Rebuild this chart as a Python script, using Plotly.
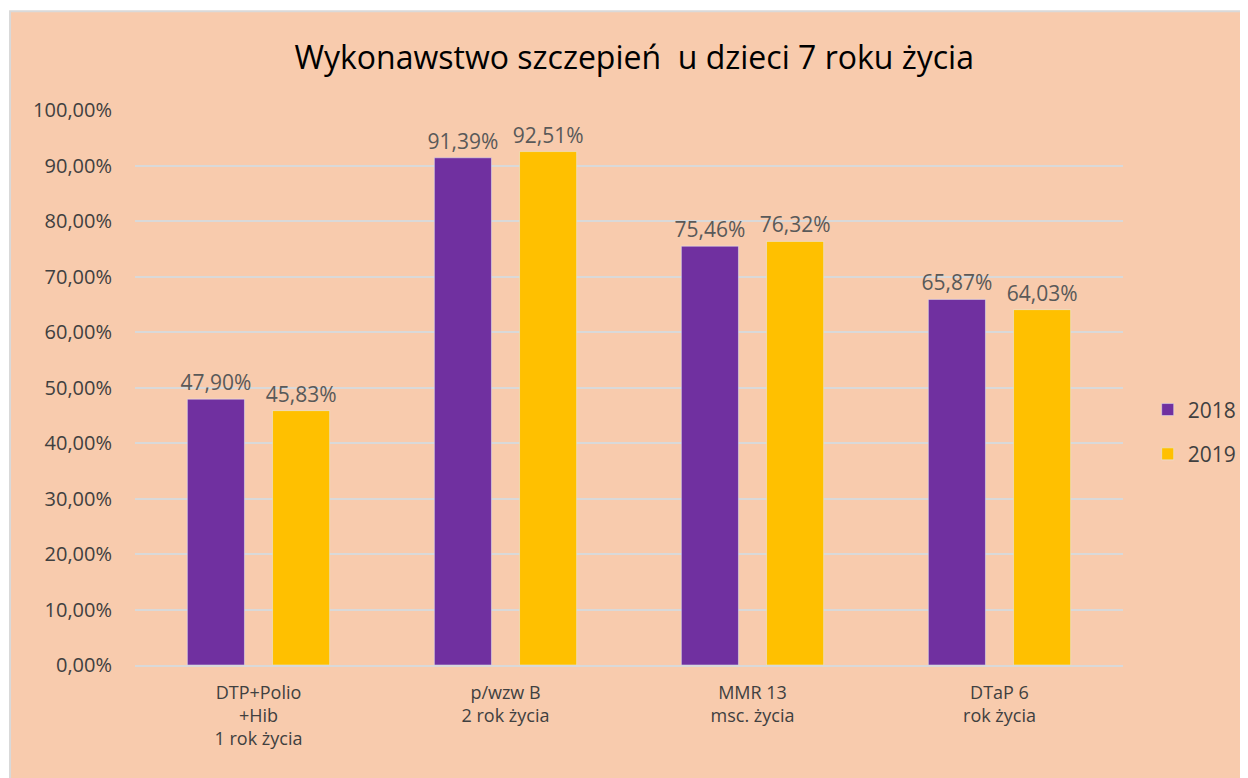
import plotly.graph_objects as go

categories = ["DTP+Polio<br>+Hib<br>1 rok życia", "p/wzw B<br>2 rok życia", "MMR 13<br>msc. życia", "DTaP 6<br>rok życia"]
values_2018 = [0.4790, 0.9139, 0.7546, 0.6587]
values_2019 = [0.4583, 0.9251, 0.7632, 0.6403]

FONT = "Open Sans"
label_font = dict(family=FONT, size=21, color="#595959")

fig = go.Figure()
fig.add_trace(go.Bar(
    x=categories, y=values_2018, name="2018", legendgroup="a",
    marker=dict(color="#7030A0"),
    texttemplate="%{y:.2%}", textposition="outside", textfont=label_font,
    constraintext="none", cliponaxis=False,
))
fig.add_trace(go.Bar(
    x=categories, y=values_2019, name="2019", legendgroup="b",
    marker=dict(color="#FFC000"),
    texttemplate="%{y:.2%}", textposition="outside", textfont=label_font,
    constraintext="none", cliponaxis=False,
))

# chart area background with thin grey border
fig.add_shape(type="rect", xref="paper", yref="paper",
              x0=-0.1265, x1=1.13, y0=-0.21, y1=1.178,
              fillcolor="#F8CBAD", line=dict(color="#D9D9D9", width=2), layer="below")

# page body has an 8px margin, so the figure is 8px smaller than the window
fig.update_layout(
    width=1240, height=770,
    margin=dict(l=127, r=125, t=102, b=113, autoexpand=False),
    paper_bgcolor="white",
    plot_bgcolor="rgba(0,0,0,0)",
    separators=", ",
    barmode="group",
    bargap=0.31,
    bargroupgap=0.33,
    title=dict(text="Wykonawstwo szczepień  u dzieci 7 roku życia",
               x=0.505, xref="container", y=0.935, yanchor="middle",
               font=dict(family=FONT, size=32, color="#000000")),
    font=dict(family=FONT, color="#404040"),
    legend=dict(x=1.025, y=0.42, yanchor="middle", xanchor="left",
                font=dict(family=FONT, size=21, color="#404040"),
                tracegroupgap=14, itemwidth=30, bgcolor="rgba(0,0,0,0)"),
    showlegend=True,
)
fig.update_yaxes(range=[0, 1], dtick=0.1, tickformat=".2%",
                 showgrid=True, gridcolor="#D9D9D9", gridwidth=2,
                 zeroline=False, ticks="", ticklabelstandoff=22,
                 tickfont=dict(family=FONT, size=20, color="#404040"))
fig.update_xaxes(showline=True, linecolor="#D9D9D9", linewidth=2, ticks="",
                 ticklabelstandoff=10,
                 tickfont=dict(family=FONT, size=18, color="#404040"))

fig.write_html("out.html")
